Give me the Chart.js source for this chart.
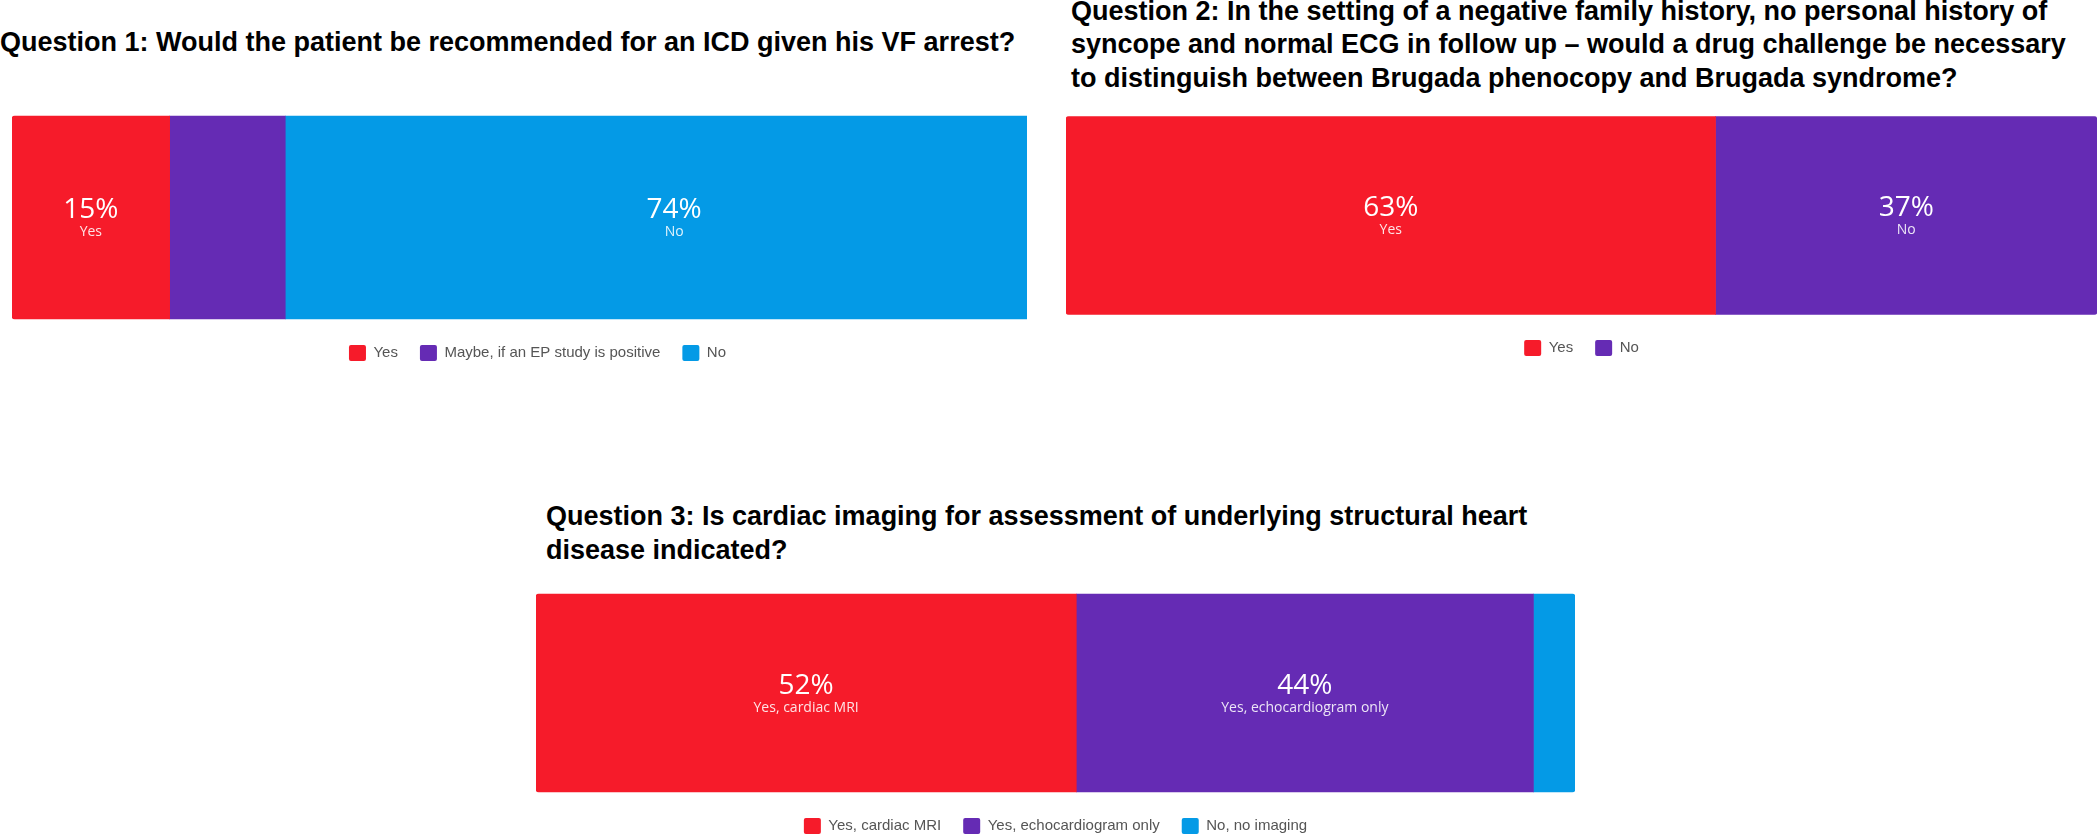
<!DOCTYPE html>
<html lang="en">

<head>
    <meta charset="UTF-8">
    <title>Brugada case - survey answers</title>
    <script src="https://cdn.jsdelivr.net/npm/chart.js"></script>
    <style>
        body {
            margin: 0;
            background-color: #ffffff;
            width: 2100px;
            height: 836px;
            overflow: hidden;
            position: relative;
            font-family: 'Liberation Sans', Arial, sans-serif;
        }

        .question {
            position: absolute;
            font-weight: bold;
            font-size: 27px;
            color: #000000;
            white-space: nowrap;
        }

        .panel {
            position: absolute;
            overflow: hidden; /* Q1 bar is cut off on the right in the original */
        }

        .panel > div {
            position: relative;
            height: 100%;
        }
    </style>
</head>

<body>
<div class="question" style="left: 0; top: 25px; line-height: 34px;">Question 1: Would the patient be recommended for an ICD given his VF arrest?</div>
<div class="question" style="left: 1071px; top: -5px; line-height: 33.3px;">Question 2: In the setting of a negative family history, no personal history of<br>syncope and normal ECG in follow up – would a drug challenge be necessary<br>to distinguish between Brugada phenocopy and Brugada syndrome?</div>
<div class="question" style="left: 546px; top: 499px; line-height: 34px;">Question 3: Is cardiac imaging for assessment of underlying structural heart<br>disease indicated?</div>

<div class="panel" style="left: 12px; top: 112px; width: 1015px; height: 259px;">
    <div style="width: 1051px;"><canvas id="q1Chart"></canvas></div>
</div>
<div class="panel" style="left: 1066px; top: 113px; width: 1031px; height: 253px;">
    <div style="width: 1031px;"><canvas id="q2Chart"></canvas></div>
</div>
<div class="panel" style="left: 536px; top: 590px; width: 1039px; height: 254px;">
    <div style="width: 1039px;"><canvas id="q3Chart"></canvas></div>
</div>

<script>
    // answers (percent of respondents)
    const q1Labels = ['Yes', 'Maybe, if an EP study is positive', 'No'];
    const q1Values = [15, 11, 74];

    const q2Labels = ['Yes', 'No'];
    const q2Values = [63, 37];

    const q3Labels = ['Yes, cardiac MRI', 'Yes, echocardiogram only', 'No, no imaging'];
    const q3Values = [52, 44, 4];

    const colors = ['#f61b2a', '#652bb4', '#049ae6'];

    Chart.defaults.font.family = "'Liberation Sans', Arial, sans-serif";

    // percentage + answer text inside the wide segments
    const barText = {
        id: 'barText',
        afterDatasetsDraw(chart) {
            const ctx = chart.ctx;
            ctx.save();
            ctx.textAlign = 'center';
            ctx.textBaseline = 'middle';
            chart.data.datasets.forEach((ds, i) => {
                const v = ds.data[0];
                if (v < 12) return;
                const bar = chart.getDatasetMeta(i).data[0];
                const x = (bar.x + bar.base) / 2;
                ctx.fillStyle = '#ffffff';
                ctx.font = '28px "Open Sans"';
                ctx.fillText(v + '%', x, bar.y - 7);
                ctx.fillStyle = 'rgba(255,255,255,0.88)';
                ctx.font = '14px "Open Sans"';
                ctx.fillText(ds.label, x, bar.y + 15);
            });
            ctx.restore();
        }
    };

    function cornerRadius(i, n) {
        const r = 3;
        if (i === 0) return {topLeft: r, bottomLeft: r, topRight: 0, bottomRight: 0};
        if (i === n - 1) return {topLeft: 0, bottomLeft: 0, topRight: r, bottomRight: r};
        return 0;
    }

    function makeChart(id, labels, values, thickness) {
        const datasets = labels.map((label, i) => ({
            label: label,
            data: [values[i]],
            backgroundColor: colors[i],
            borderWidth: 0,
            borderSkipped: false,
            borderRadius: cornerRadius(i, labels.length),
            barThickness: thickness
        }));

        return new Chart(document.getElementById(id), {
            type: 'bar',
            data: {labels: [''], datasets: datasets},
            options: {
                indexAxis: 'y',
                responsive: true,
                maintainAspectRatio: false,
                animation: false,
                layout: {padding: 0},
                scales: {
                    x: {stacked: true, min: 0, max: 100, display: false},
                    y: {stacked: true, display: false}
                },
                plugins: {
                    legend: {
                        position: 'bottom',
                        labels: {
                            boxWidth: 17,
                            boxHeight: 16,
                            padding: 22,
                            color: '#555555',
                            useBorderRadius: true,
                            borderRadius: 2,
                            font: {size: 15}
                        }
                    },
                    tooltip: {enabled: false}
                }
            },
            plugins: [barText]
        });
    }

    makeChart('q1Chart', q1Labels, q1Values, 203);
    makeChart('q2Chart', q2Labels, q2Values, 198);
    makeChart('q3Chart', q3Labels, q3Values, 198);
</script>
</body>

</html>
